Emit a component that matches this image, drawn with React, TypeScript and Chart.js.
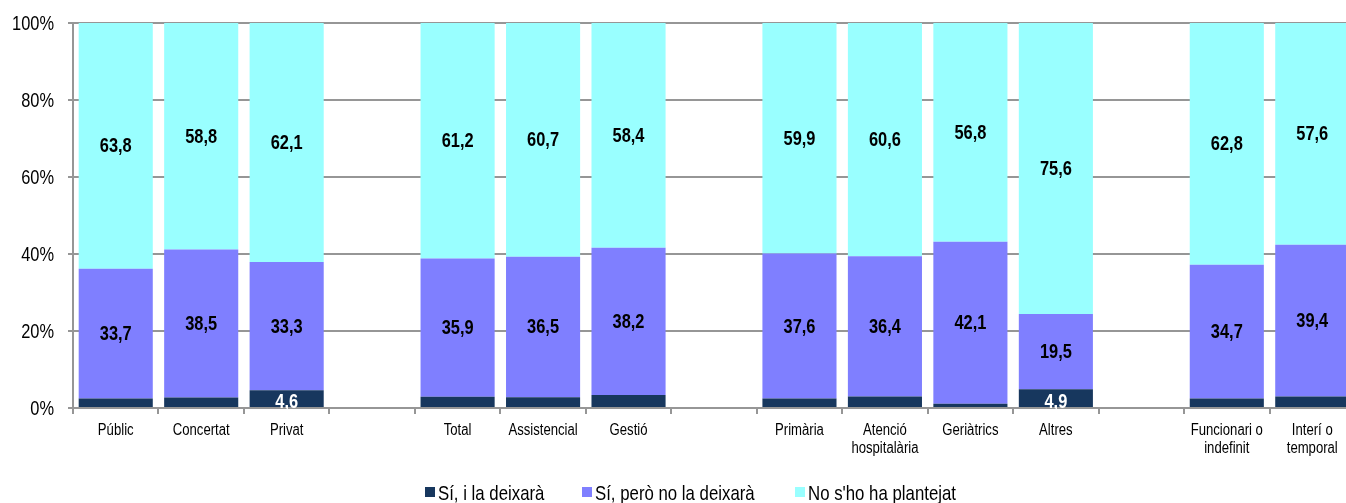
import React, { useEffect, useRef } from "react";
import { Chart, registerables } from "chart.js";

Chart.register(...registerables);

const categories: (string | string[])[] = [
  "Públic", "Concertat", "Privat", "",
  "Total", "Assistencial", "Gestió", "",
  "Primària", ["Atenció", "hospitalària"], "Geriàtrics", "Altres", "",
  ["Funcionari o", "indefinit"], ["Interí o", "temporal"],
];

const siLaDeixara: (number | null)[] = [2.5, 2.7, 4.6, null, 2.9, 2.8, 3.4, null, 2.5, 3.0, 1.1, 4.9, null, 2.5, 3.0];
const siPeroNo: (number | null)[] = [33.7, 38.5, 33.3, null, 35.9, 36.5, 38.2, null, 37.6, 36.4, 42.1, 19.5, null, 34.7, 39.4];
const noPlantejat: (number | null)[] = [63.8, 58.8, 62.1, null, 61.2, 60.7, 58.4, null, 59.9, 60.6, 56.8, 75.6, null, 62.8, 57.6];

const seriesNames = ["Sí, i la deixarà", "Sí, però no la deixarà", "No s'ho ha plantejat"];
const seriesColors = ["#17375E", "#7F7FFF", "#99FFFF"];
const yTicks = [0, 20, 40, 60, 80, 100];

const FONT = "'Liberation Sans', Arial, sans-serif";
const NARROW = 0.82;
const GRID = "#969696";
const LEGEND_X = [425, 582, 795];

function narrowText(ctx: CanvasRenderingContext2D, text: string, x: number, y: number, sx = NARROW) {
  ctx.save();
  ctx.translate(x, y);
  ctx.scale(sx, 1);
  ctx.fillText(text, 0, 0);
  ctx.restore();
}

const textPlugin = {
  id: "narrowTexts",
  afterDatasetsDraw(chart: any) {
    const ctx: CanvasRenderingContext2D = chart.ctx;
    ctx.save();
    ctx.font = `bold 20px ${FONT}`;
    ctx.textAlign = "center";
    ctx.textBaseline = "middle";
    chart.data.datasets.forEach((ds: any, di: number) => {
      const meta = chart.getDatasetMeta(di);
      meta.data.forEach((el: any, i: number) => {
        const v = ds.data[i];
        if (v == null) return;
        if (di === 0 && v < 4) return;
        ctx.fillStyle = di === 0 ? "#ffffff" : "#000000";
        const y = (el.y + el.base) / 2 + (di === 0 ? 4 : 1);
        narrowText(ctx, v.toFixed(1).replace(".", ","), el.x, y);
      });
    });
    ctx.restore();
  },
  afterDraw(chart: any) {
    const ctx: CanvasRenderingContext2D = chart.ctx;
    const xs = chart.scales.x;
    const ys = chart.scales.y;
    ctx.save();
    ctx.fillStyle = "#000";
    ctx.font = `20px ${FONT}`;
    ctx.textAlign = "right";
    ctx.textBaseline = "middle";
    yTicks.forEach((v) => {
      narrowText(ctx, v + "%", 54, ys.getPixelForValue(v) + 1);
    });
    ctx.font = `16px ${FONT}`;
    ctx.textAlign = "center";
    ctx.textBaseline = "alphabetic";
    categories.forEach((c, i) => {
      const lines = Array.isArray(c) ? c : [c];
      const x = xs.getPixelForValue(i);
      lines.forEach((ln, k) => narrowText(ctx, ln, x, 435 + k * 18));
    });
    ctx.font = `21px ${FONT}`;
    ctx.textAlign = "left";
    seriesNames.forEach((n, i) => {
      const x = LEGEND_X[i];
      ctx.fillStyle = seriesColors[i];
      ctx.fillRect(x, 487, 10, 10);
      ctx.fillStyle = "#000";
      narrowText(ctx, n, x + 13, 500, 0.8);
    });
    ctx.restore();
  },
};

export default function App() {
  const ref = useRef<HTMLCanvasElement>(null);
  useEffect(() => {
    document.body.style.margin = "0";
    const chart = new Chart(ref.current!, {
      type: "bar",
      data: {
        labels: categories,
        datasets: [siLaDeixara, siPeroNo, noPlantejat].map((d, i) => ({
          label: seriesNames[i],
          data: d,
          backgroundColor: seriesColors[i],
          borderWidth: 0,
          categoryPercentage: 1,
          barPercentage: 0.867,
        })),
      },
      options: {
        responsive: false,
        animation: false,
        devicePixelRatio: 1,
        layout: { padding: { left: 68, right: 7, top: 23, bottom: 89 } },
        plugins: {
          tooltip: { enabled: false },
          legend: { display: false },
        },
        scales: {
          x: {
            stacked: true,
            grid: { offset: true, drawOnChartArea: false, drawTicks: true, tickLength: 6, color: GRID, lineWidth: 2 },
            border: { color: GRID, width: 2 },
            ticks: { display: false },
          },
          y: {
            stacked: true,
            min: 0,
            max: 100,
            afterBuildTicks: (s: any) => { s.ticks = yTicks.map((v) => ({ value: v })); },
            grid: { color: GRID, lineWidth: 2, tickLength: 5 },
            border: { color: GRID, width: 2 },
            ticks: { display: false },
          },
        },
      },
      plugins: [textPlugin],
    });
    return () => chart.destroy();
  }, []);
  return (
    <div style={{ width: 1346, height: 503, overflow: "hidden", position: "relative" }}>
      <canvas ref={ref} width={1362} height={503} style={{ display: "block" }} />
    </div>
  );
}
